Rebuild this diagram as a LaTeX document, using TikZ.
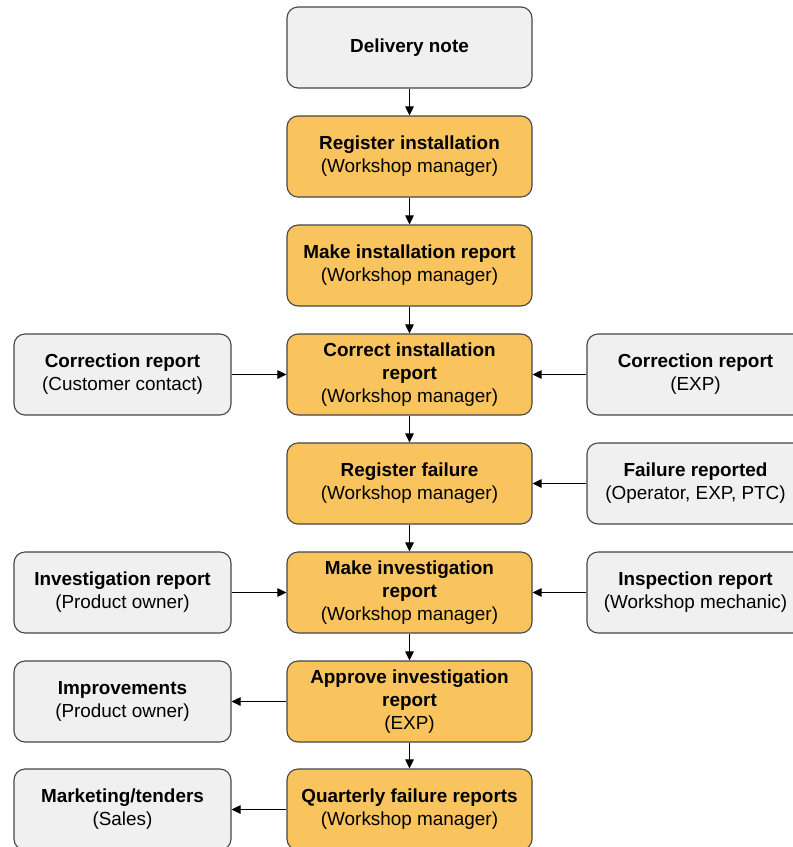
\documentclass[tikz,border=0pt]{standalone}
\usepackage{fontspec}
\setmainfont{Liberation Sans}
\usetikzlibrary{arrows.meta}
\definecolor{stepfill}{RGB}{249,196,94}
\definecolor{docfill}{RGB}{240,240,240}
\definecolor{boxline}{RGB}{70,70,70}
\begin{document}
\begin{tikzpicture}[x=1pt,y=-1pt,
  box/.style={draw=boxline, line width=1.1pt, rounded corners=11pt,
    align=center, inner sep=2pt,
    font=\fontsize{18.9}{23}\selectfont},
  stepbox/.style={box, fill=stepfill, minimum width=245pt, minimum height=81pt},
  docbox/.style={box, fill=docfill, minimum width=217pt, minimum height=81pt},
  flow/.style={-{Triangle[length=9pt,width=8.5pt]}, line width=1pt, black}]
\useasboundingbox (0,0) rectangle (793,847);
\fill[white] (0,0) rectangle (793,847);

% main column
\node[docbox, minimum width=245pt] (dn) at (409.5,47.5) {\textbf{Delivery note}};
\node[stepbox] (ri) at (409.5,156.5) {\textbf{Register installation}\\(Workshop manager)};
\node[stepbox] (mi) at (409.5,265.5) {\textbf{Make installation report}\\(Workshop manager)};
\node[stepbox] (ci) at (409.5,374.5) {\textbf{Correct installation}\\\textbf{report}\\(Workshop manager)};
\node[stepbox] (rf) at (409.5,483.5) {\textbf{Register failure}\\(Workshop manager)};
\node[stepbox] (mv) at (409.5,592.5) {\textbf{Make investigation}\\\textbf{report}\\(Workshop manager)};
\node[stepbox] (av) at (409.5,701.5) {\textbf{Approve investigation}\\\textbf{report}\\(EXP)};
\node[stepbox] (qf) at (409.5,809.5) {\textbf{Quarterly failure reports}\\(Workshop manager)};

% left column
\node[docbox] (crc) at (122.5,374.5) {\textbf{Correction report}\\(Customer contact)};
\node[docbox] (ir) at (122.5,592.5) {\textbf{Investigation report}\\(Product owner)};
\node[docbox] (imp) at (122.5,701.5) {\textbf{Improvements}\\(Product owner)};
\node[docbox] (mt) at (122.5,809.5) {\textbf{Marketing/tenders}\\(Sales)};

% right column
\node[docbox] (cre) at (695.5,374.5) {\textbf{Correction report}\\(EXP)};
\node[docbox] (fr) at (695.5,483.5) {\textbf{Failure reported}\\(Operator, EXP, PTC)};
\node[docbox] (isr) at (695.5,592.5) {\textbf{Inspection report}\\(Workshop mechanic)};

% vertical flow
\draw[flow] (dn) -- (ri);
\draw[flow] (ri) -- (mi);
\draw[flow] (mi) -- (ci);
\draw[flow] (ci) -- (rf);
\draw[flow] (rf) -- (mv);
\draw[flow] (mv) -- (av);
\draw[flow] (av) -- (qf);

% side inputs and outputs
\draw[flow] (crc) -- (ci);
\draw[flow] (cre) -- (ci);
\draw[flow] (fr) -- (rf);
\draw[flow] (ir) -- (mv);
\draw[flow] (isr) -- (mv);
\draw[flow] (av) -- (imp);
\draw[flow] (qf) -- (mt);
\end{tikzpicture}
\end{document}
